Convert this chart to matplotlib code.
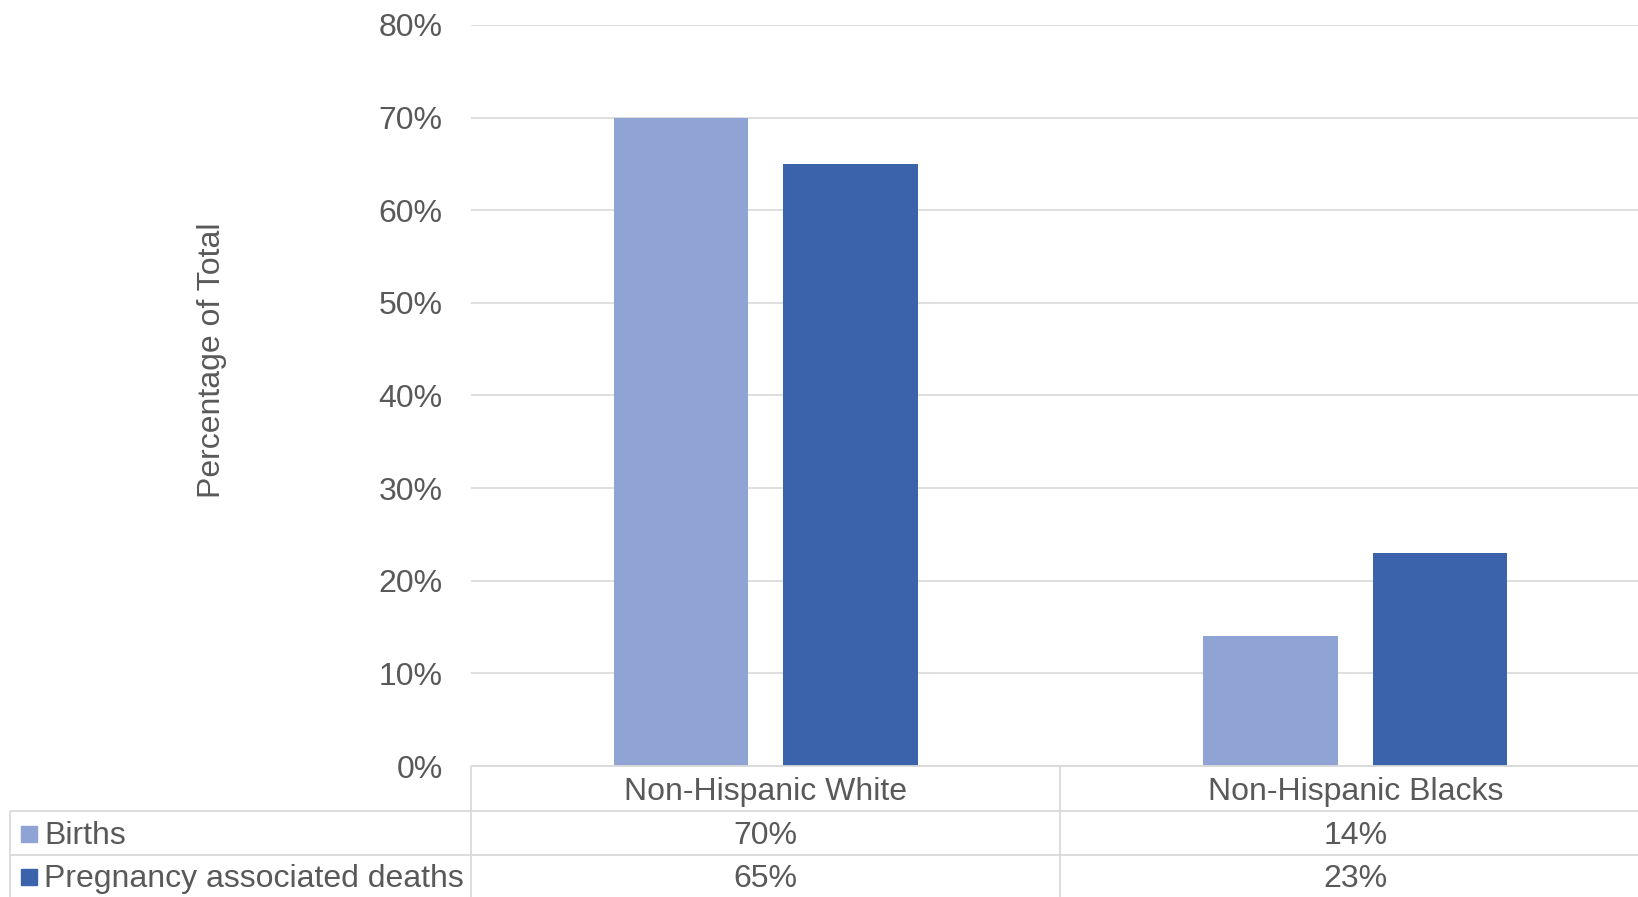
import matplotlib.pyplot as plt
import matplotlib.transforms as mtransforms
from matplotlib.ticker import PercentFormatter

plt.rcParams['font.family'] = ['Liberation Sans', 'DejaVu Sans']

# data
groups = ['Non-Hispanic White', 'Non-Hispanic Blacks']
series = ['Births', 'Pregnancy associated deaths']
births = [70, 14]
deaths = [65, 23]
colors = ['#8FA3D4', '#3A63AB']

W, H = 1638, 897
TXT = '#595959'
GRID = '#D9D9D9'
FS = 23

fig = plt.figure(figsize=(W / 100, H / 100), dpi=100)

# plot area in pixel terms (runs slightly past the right edge of the canvas)
left, right, top, bottom = 471, 1650, 25, 766
ax = fig.add_axes([left / W, (H - bottom) / H, (right - left) / W, (bottom - top) / H])

bw = 0.228
gap = 0.06
x = range(len(groups))
ax.bar([i - (bw + gap) / 2 for i in x], births, width=bw, color=colors[0], zorder=3)
ax.bar([i + (bw + gap) / 2 for i in x], deaths, width=bw, color=colors[1], zorder=3)

ax.set_xlim(-0.5, len(groups) - 0.5)
ax.set_ylim(0, 80)
ax.set_yticks(range(0, 81, 10))
ax.yaxis.set_major_formatter(PercentFormatter(decimals=0))
ax.set_xticks([])
ax.tick_params(axis='y', length=0, pad=20.5, labelsize=FS, labelcolor=TXT)
ax.grid(axis='y', color=GRID, lw=1.2, zorder=0)
for s in ax.spines.values():
    s.set_visible(False)

fig.text(212 / W, 1 - 360 / H, 'Percentage of Total', rotation=90, ha='center', va='center',
         fontsize=FS, color=TXT)

# data table underneath, drawn on an overlay in pixel coordinates
tax = fig.add_axes([0, 0, 1, 1], zorder=5)
tax.set_xlim(0, W)
tax.set_ylim(H, 0)
tax.axis('off')

lk = dict(color=GRID, lw=1.3, solid_capstyle='butt')
row_y = [766, 811, 855]
tax.plot([left, W], [row_y[0]] * 2, **lk)
tax.plot([10, W], [row_y[1]] * 2, **lk)
tax.plot([10, W], [row_y[2]] * 2, **lk)
tax.plot([10, 10], [row_y[1], H], **lk)
tax.plot([left, left], [row_y[0], H], **lk)
tax.plot([1060, 1060], [row_y[0], H], **lk)

blend = mtransforms.blended_transform_factory(ax.transData, tax.transData)
text_y = [792, 836, 879]
for i, g in enumerate(groups):
    tax.text(i, text_y[0], g, transform=blend, ha='center', va='center', fontsize=FS, color=TXT)
    tax.text(i, text_y[1], f'{births[i]}%', transform=blend, ha='center', va='center',
             fontsize=FS, color=TXT)
    tax.text(i, text_y[2], f'{deaths[i]}%', transform=blend, ha='center', va='center',
             fontsize=FS, color=TXT)

for name, c, ty in zip(series, colors, text_y[1:]):
    tax.add_patch(plt.Rectangle((21, ty - 10), 16, 16, color=c))
    tax.text(44, ty, name, ha='left', va='center', fontsize=FS, color=TXT)

fig.savefig('out.png', dpi=100)
